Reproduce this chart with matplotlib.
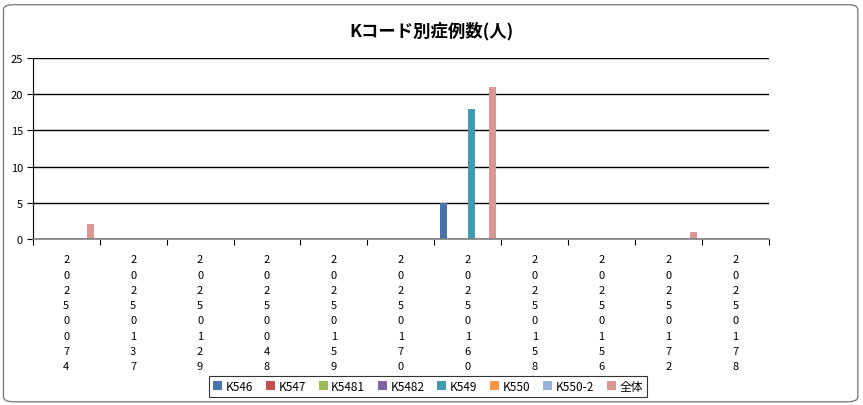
import numpy as np
import matplotlib
matplotlib.use("Agg")
import matplotlib.pyplot as plt
from matplotlib.patches import FancyBboxPatch, Patch

plt.rcParams['font.family'] = ['Noto Sans CJK JP', 'DejaVu Sans']

# data
codes = ['20250074', '20250137', '20250129', '20250048', '20250159', '20250170',
         '20250160', '20250158', '20250156', '20250172', '20250178']
series = ['K546', 'K547', 'K5481', 'K5482', 'K549', 'K550', 'K550-2', '全体']
k546 = [0, 0, 0, 0, 0, 0, 5, 0, 0, 0, 0]
k547 = [0, 0, 0, 0, 0, 0, 0, 0, 0, 0, 0]
k5481 = [0, 0, 0, 0, 0, 0, 0, 0, 0, 0, 0]
k5482 = [0, 0, 0, 0, 0, 0, 0, 0, 0, 0, 0]
k549 = [0, 0, 0, 0, 0, 0, 18, 0, 0, 0, 0]
k550 = [0, 0, 0, 0, 0, 0, 0, 0, 0, 0, 0]
k550_2 = [0, 0, 0, 0, 0, 0, 0, 0, 0, 0, 0]
total = [2, 0, 0, 0, 0, 0, 21, 0, 0, 1, 0]
colors = ['#4A72AA', '#C0504D', '#9BBB59', '#8064A2', '#4399B1', '#F79646', '#95B3D7', '#D99694']

values = [k546, k547, k5481, k5482, k549, k550, k550_2, total]

fig = plt.figure(figsize=(8.63, 4.06), dpi=100)
fig.patches.append(FancyBboxPatch((0.004, 0.008), 0.99, 0.978, boxstyle='round,pad=0,rounding_size=0.012',
                                  transform=fig.transFigure, fill=False, edgecolor='#7f7f7f', lw=1.0))
ax = fig.add_axes([0.038, 0.409, 0.853, 0.446])

x = np.arange(len(codes))
n = len(series)
w = 1.0 / (n + 1.5)
for i, (name, vals) in enumerate(zip(series, values)):
    ax.bar(x + (i - (n - 1) / 2) * w, vals, w, color=colors[i], label=name, zorder=3)

ax.set_xlim(-0.5, len(codes) - 0.5)
ax.set_ylim(0, 25)
ax.set_yticks([0, 5, 10, 15, 20, 25])
ax.yaxis.grid(True, color='black', lw=1.0, zorder=1)
ax.tick_params(axis='y', labelsize=8, length=4, width=0.8, pad=3)

ax.set_xticks(x)
ax.set_xticklabels(['\n'.join(c) for c in codes], fontsize=8, linespacing=1.66)
ax.set_xticks(np.arange(len(codes) + 1) - 0.5, minor=True)
ax.tick_params(axis='x', which='major', length=0, pad=11)
ax.tick_params(axis='x', which='minor', length=4, width=0.8, color='black')

for s in ['top', 'right']:
    ax.spines[s].set_visible(False)
ax.spines['left'].set_color('black')
ax.spines['left'].set_linewidth(0.8)
ax.spines['bottom'].set_color('#808080')
ax.spines['bottom'].set_linewidth(1.2)
ax.spines['bottom'].set_zorder(4)

fig.text(0.5, 0.922, 'Kコード別症例数(人)', ha='center', va='center', fontsize=12.5, fontweight='bold')

handles = [Patch(facecolor=c, edgecolor='none') for c in colors]
leg = fig.legend(handles, series, loc='center', bbox_to_anchor=(0.496, 0.046), ncol=n, fontsize=8.5,
                 frameon=True, fancybox=False, handlelength=0.75, handleheight=0.75, handletextpad=0.3,
                 columnspacing=1.1, borderpad=0.35)
leg.get_frame().set_edgecolor('black')
leg.get_frame().set_linewidth(0.8)

fig.savefig('out.png', dpi=100)
